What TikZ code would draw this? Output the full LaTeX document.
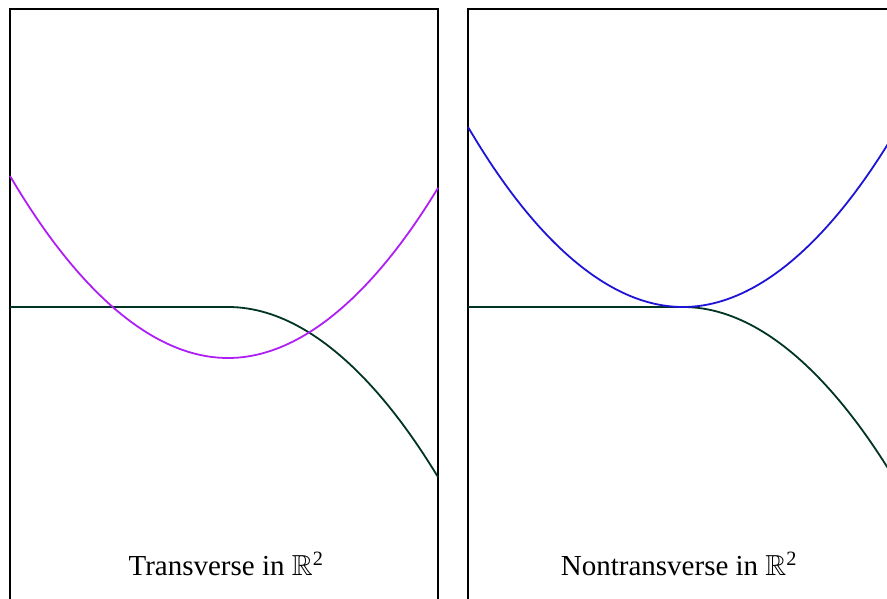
\documentclass[tikz,border=0pt]{standalone}
\usepackage{amssymb}
\usepackage{fontspec}
\setmainfont{Liberation Serif}
\definecolor{curvegreen}{RGB}{0,52,36}
\definecolor{curvepurple}{RGB}{175,30,245}
\definecolor{curveblue}{RGB}{30,20,215}
\tikzset{
  panel/.style={draw=black, line width=2pt},
  curve/.style={line width=1.8pt},
  caption/.style={font=\fontsize{29}{34}\selectfont, anchor=base, inner sep=0pt}
}
\begin{document}
\begin{tikzpicture}[x=1pt,y=-1pt]
\useasboundingbox (0,0) rectangle (887,599);
\clip (0,0) rectangle (887,599);
% left panel
\draw[panel] (10,9) rectangle (438,640);
\draw[curve, curvegreen] (10,307) -- (228,307) parabola (438,477);
\draw[curve, curvepurple] (10,176) parabola bend (228,358) (438,188);
\node[caption] (ltext) at (226,575) {Transverse in $\mathbb{R}$\textsuperscript{2}};
% right panel
\draw[panel] (468,9) rectangle (910,640);
\draw[curve, curvegreen] (468,307) -- (683,307) parabola (900,488);
\draw[curve, curveblue] (468,127) parabola bend (683,307) (900,124);
\node[caption] (rtext) at (679,575) {Nontransverse in $\mathbb{R}$\textsuperscript{2}};
\end{tikzpicture}
\end{document}
